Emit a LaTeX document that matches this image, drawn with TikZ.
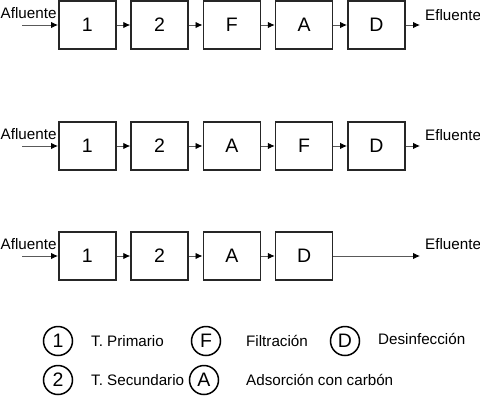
\documentclass[tikz,border=0pt]{standalone}
\usepackage{fontspec}
\setmainfont{Liberation Sans}
\usetikzlibrary{arrows.meta}
\begin{document}
\begin{tikzpicture}[x=1pt,y=-1pt,
  stagebox/.style={draw=black!85,line width=1.7pt,minimum width=57pt,minimum height=48pt,inner sep=0pt,font=\fontsize{19.5}{19.5}\selectfont,anchor=west},
  flow/.style={draw=black!65,line width=0.9pt,-{Latex[length=7pt,width=6.5pt,color=black]}},
  lbl/.style={inner sep=0pt,font=\fontsize{15.2}{15.2}\selectfont,anchor=west},
  legcirc/.style={circle,draw=black,line width=1.5pt,minimum size=29pt,inner sep=0pt,font=\fontsize{19.5}{19.5}\selectfont}]
\useasboundingbox (0,0) rectangle (480,400);
% Row 1
\node[stagebox] (a1) at (58,25) {1};
\node[stagebox] (a2) at (130.25,25) {2};
\node[stagebox] (a3) at (202.5,25) {F};
\node[stagebox] (a4) at (274.75,25) {A};
\node[stagebox] (a5) at (347,25) {D};
\node[lbl] (ain) at (0.5,13) {Afluente};
\node[lbl] (aout) at (425,15) {Efluente};
\coordinate (as) at (22,25);
\coordinate (ae) at (420,25);
\draw[flow] (as) -- (a1.west);
\draw[flow] (a1.east) -- (a2.west);
\draw[flow] (a2.east) -- (a3.west);
\draw[flow] (a3.east) -- (a4.west);
\draw[flow] (a4.east) -- (a5.west);
\draw[flow] (a5.east) -- (ae);
% Row 2
\node[stagebox] (b1) at (58,146) {1};
\node[stagebox] (b2) at (130.25,146) {2};
\node[stagebox] (b3) at (202.5,146) {A};
\node[stagebox] (b4) at (274.75,146) {F};
\node[stagebox] (b5) at (347,146) {D};
\node[lbl] (bin) at (0.5,134) {Afluente};
\node[lbl] (bout) at (425,135) {Efluente};
\coordinate (bs) at (22,146);
\coordinate (be) at (420,146);
\draw[flow] (bs) -- (b1.west);
\draw[flow] (b1.east) -- (b2.west);
\draw[flow] (b2.east) -- (b3.west);
\draw[flow] (b3.east) -- (b4.west);
\draw[flow] (b4.east) -- (b5.west);
\draw[flow] (b5.east) -- (be);
% Row 3
\node[stagebox] (c1) at (58,256) {1};
\node[stagebox] (c2) at (130.25,256) {2};
\node[stagebox] (c3) at (202.5,256) {A};
\node[stagebox] (c4) at (274.75,256) {D};
\node[lbl] (cin) at (0.5,244) {Afluente};
\node[lbl] (cout) at (425,244) {Efluente};
\coordinate (cs) at (22,256);
\coordinate (ce) at (420,256);
\draw[flow] (cs) -- (c1.west);
\draw[flow] (c1.east) -- (c2.west);
\draw[flow] (c2.east) -- (c3.west);
\draw[flow] (c3.east) -- (c4.west);
\draw[flow] (c4.east) -- (ce);
% Legend
\node[legcirc] (l1) at (58,341) {1};
\node[lbl] (t1) at (91,341) {T. Primario};
\node[legcirc] (lF) at (206,341) {F};
\node[lbl] (tF) at (246,341) {Filtración};
\node[legcirc] (lD) at (345,341) {D};
\node[lbl] (tD) at (378,339) {Desinfección};
\node[legcirc] (l2) at (58,380) {2};
\node[lbl] (t2) at (91,380) {T. Secundario};
\node[legcirc] (lA) at (204,380) {A};
\node[lbl] (tA) at (246,380) {Adsorción con carbón};
\end{tikzpicture}
\end{document}
